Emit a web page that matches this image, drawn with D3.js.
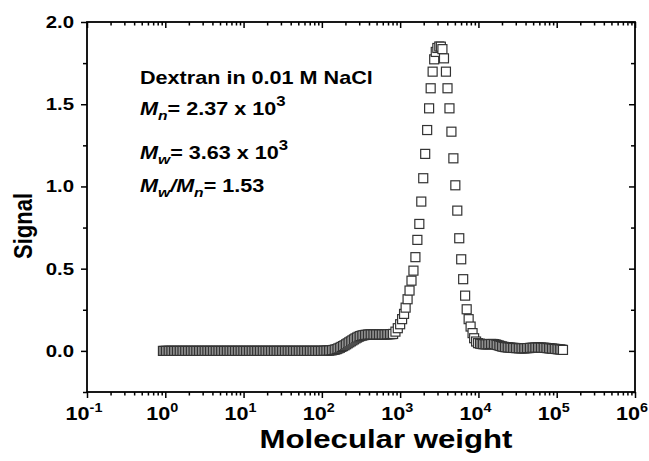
<!DOCTYPE html>
<html>
<head>
<meta charset="utf-8">
<script src="https://cdn.jsdelivr.net/npm/d3@7"></script>
<style>
  body { margin: 0; background: #fff; }
  text { font-family: "Liberation Sans", Arial, sans-serif; font-weight: bold; }
</style>
</head>
<body>
<div id="chart"></div>
<script>
// [log10(M), signal], in elution order (low M first)
var baseline = [
  [-0.03,0],[-0.01,0],[0.01,0],[0.03,0],[0.05,0],[0.07,0],[0.09,0],[0.11,0],[0.13,0],[0.15,0],
  [0.17,0],[0.19,0],[0.21,0],[0.23,0],[0.25,0],[0.27,0],[0.29,0],[0.31,0],[0.33,0],[0.35,0],
  [0.37,0],[0.39,0],[0.41,0],[0.43,0],[0.45,0],[0.47,0],[0.49,0],[0.51,0],[0.53,0],[0.55,0],
  [0.57,0],[0.59,0],[0.61,0],[0.63,0],[0.65,0],[0.67,0],[0.69,0],[0.71,0],[0.73,0],[0.75,0],
  [0.77,0],[0.79,0],[0.81,0],[0.83,0],[0.85,0],[0.87,0],[0.89,0],[0.91,0],[0.93,0],[0.95,0],
  [0.97,0],[0.99,0],[1.01,0],[1.03,0],[1.05,0],[1.07,0],[1.09,0],[1.11,0],[1.13,0],[1.15,0],
  [1.17,0],[1.19,0],[1.21,0],[1.23,0],[1.25,0],[1.27,0],[1.29,0],[1.31,0],[1.33,0],[1.35,0],
  [1.37,0],[1.39,0],[1.41,0],[1.43,0],[1.45,0],[1.47,0],[1.49,0],[1.51,0],[1.53,0],[1.55,0],
  [1.57,0],[1.59,0],[1.61,0],[1.63,0],[1.65,0],[1.67,0],[1.69,0],[1.71,0],[1.73,0],[1.75,0],
  [1.77,0],[1.79,0],[1.81,0],[1.83,0],[1.85,0],[1.87,0],[1.89,0],[1.91,0],[1.93,0],[1.95,0],
  [1.97,0],[1.99,0],[2.01,0],[2.03,0.001],[2.05,0.001],[2.07,0.002],[2.09,0.002]
];

var shoulder = [
  [2.11,0.003],[2.13,0.004],[2.15,0.006],[2.17,0.008],[2.19,0.011],[2.21,0.015],[2.23,0.019],
  [2.25,0.024],[2.27,0.029],[2.29,0.034],[2.31,0.040],[2.33,0.046],[2.35,0.052],[2.37,0.058],
  [2.39,0.064],[2.41,0.070],[2.43,0.076],[2.45,0.081],[2.47,0.086],[2.49,0.090],[2.51,0.093],
  [2.53,0.095],[2.55,0.097],[2.57,0.098],[2.59,0.099],[2.61,0.100],[2.63,0.100],[2.65,0.100],
  [2.67,0.100],[2.69,0.100],[2.71,0.100],[2.73,0.100],[2.75,0.100],[2.77,0.100],[2.79,0.100],
  [2.81,0.100],[2.83,0.101],[2.85,0.101],[2.87,0.102],[2.89,0.102]
];

var peak = [
  [2.91,0.103],[2.94,0.117],[2.97,0.138],[3.00,0.162],[3.025,0.193],[3.05,0.225],[3.07,0.263],
  [3.095,0.314],[3.12,0.367],[3.145,0.427],[3.17,0.488],[3.195,0.570],[3.22,0.675],[3.245,0.772],
  [3.27,0.908],[3.295,1.050],[3.32,1.198],[3.345,1.343],[3.37,1.475],[3.39,1.597],[3.415,1.698],
  [3.435,1.773],[3.455,1.818],[3.475,1.842],[3.50,1.851],[3.52,1.850],[3.54,1.835],[3.56,1.779],
  [3.585,1.698],[3.605,1.597],[3.63,1.475],[3.655,1.333],[3.68,1.171],[3.705,1.007],[3.73,0.853],
  [3.755,0.685],[3.78,0.557],[3.805,0.436],[3.83,0.336],[3.85,0.253],[3.875,0.193],[3.90,0.148],
  [3.925,0.108],[3.945,0.077],[3.97,0.057],[3.995,0.047]
];

var tail = [
  [4.02,0.044],[4.04,0.042],[4.06,0.041],[4.08,0.040],[4.10,0.040],[4.12,0.040],[4.14,0.041],
  [4.16,0.042],[4.18,0.042],[4.20,0.041],[4.22,0.039],[4.24,0.036],[4.26,0.033],[4.28,0.030],
  [4.30,0.027],[4.32,0.025],[4.34,0.023],[4.36,0.022],[4.38,0.021],[4.40,0.020],[4.42,0.019],
  [4.44,0.018],[4.46,0.018],[4.48,0.017],[4.50,0.017],[4.52,0.016],[4.54,0.016],[4.56,0.016],
  [4.58,0.016],[4.60,0.016],[4.62,0.017],[4.64,0.017],[4.66,0.018],[4.68,0.019],[4.70,0.019],
  [4.72,0.020],[4.74,0.020],[4.76,0.020],[4.78,0.020],[4.80,0.020],[4.82,0.019],[4.84,0.019],
  [4.86,0.018],[4.88,0.017],[4.90,0.016],[4.92,0.015],[4.94,0.014],[4.96,0.013],[4.98,0.012],
  [5.00,0.011],[5.02,0.010],[5.04,0.009],[5.06,0.008],[5.08,0.006]
];

var xDecades = [-1, 0, 1, 2, 3, 4, 5, 6];
var yMajor = [0, 0.5, 1.0, 1.5, 2.0];
var yMinor = [-0.25, 0.25, 0.75, 1.25, 1.75];

var points = baseline.concat(shoulder, peak, tail);

var width = 649, height = 461;
var mLeft = 87, mRight = 635, mTop = 22, mBottom = 392;
var sx = 1.2; // picture is stretched sideways

var svg = d3.select("#chart").append("svg")
    .attr("width", width)
    .attr("height", height);

var x = d3.scaleLog().domain([0.1, 1e6]).range([mLeft, mRight]);
var y = d3.scaleLinear().domain([-0.25, 2.0]).range([mBottom, mTop]);

var xMinor = [];
xDecades.slice(0, -1).forEach(function(e) {
    for (var k = 2; k <= 9; k++) xMinor.push(k * Math.pow(10, e));
});
var xMajor = xDecades.map(function(e) { return Math.pow(10, e); });

function tickAxis(axis, vals, size) {
    return axis.tickValues(vals).tickSize(size).tickSizeOuter(0).tickFormat("");
}

// bottom (outward) and top (inward)
svg.append("g").attr("transform", "translate(0," + mBottom + ")")
    .call(tickAxis(d3.axisBottom(x), xMajor, 6));
svg.append("g").attr("transform", "translate(0," + mBottom + ")")
    .call(tickAxis(d3.axisBottom(x), xMinor, 3.5));
svg.append("g").attr("transform", "translate(0," + mTop + ")")
    .call(tickAxis(d3.axisBottom(x), xMajor, 6));
svg.append("g").attr("transform", "translate(0," + mTop + ")")
    .call(tickAxis(d3.axisBottom(x), xMinor, 3.5));
// left (outward) and right (inward)
svg.append("g").attr("transform", "translate(" + mLeft + ",0)")
    .call(tickAxis(d3.axisLeft(y), yMajor, 6));
svg.append("g").attr("transform", "translate(" + mLeft + ",0)")
    .call(tickAxis(d3.axisLeft(y), yMinor, 4));
svg.append("g").attr("transform", "translate(" + mRight + ",0)")
    .call(tickAxis(d3.axisLeft(y), yMajor, 6));
svg.append("g").attr("transform", "translate(" + mRight + ",0)")
    .call(tickAxis(d3.axisLeft(y), yMinor, 4));

svg.selectAll(".domain").remove();
svg.selectAll(".tick line").attr("stroke", "#000").attr("stroke-width", 1.5);

svg.append("rect")
    .attr("x", mLeft).attr("y", mTop)
    .attr("width", mRight - mLeft).attr("height", mBottom - mTop)
    .attr("fill", "none").attr("stroke", "#000").attr("stroke-width", 1.8);

// y tick labels
svg.selectAll(".ylab")
    .data(yMajor)
    .enter()
    .append("text")
    .attr("class", "ylab")
    .attr("transform", function(d) { return "translate(" + (mLeft - 13) + "," + (y(d) + 6) + ") scale(" + sx + ",1)"; })
    .attr("text-anchor", "end")
    .style("font-size", "17px")
    .text(function(d) { return d.toFixed(1); });

// x tick labels 10^n
var xl = svg.selectAll(".xlab")
    .data(xDecades)
    .enter()
    .append("text")
    .attr("class", "xlab")
    .attr("transform", function(d) { return "translate(" + (x(Math.pow(10, d)) - 3) + ",420) scale(" + sx + ",1)"; })
    .attr("text-anchor", "middle")
    .style("font-size", "18px");
xl.append("tspan").text("10");
xl.append("tspan").attr("dy", -8).style("font-size", "12px").text(function(d) { return d; });

// axis titles
svg.append("text")
    .attr("transform", "translate(386,448) scale(" + sx + ",1)")
    .attr("text-anchor", "middle")
    .style("font-size", "26px")
    .text("Molecular weight");
svg.append("text")
    .attr("transform", "translate(32,226) rotate(-90) scale(1," + sx + ")")
    .attr("text-anchor", "middle")
    .style("font-size", "22px")
    .text("Signal");

// annotation
var fs = 18;
var ann = svg.append("g").attr("transform", "translate(140,0) scale(" + sx + ",1)");
ann.append("text").attr("y", 84).style("font-size", fs + "px").text("Dextran in 0.01 M NaCl");

function molLine(yy, sub, rest, sup) {
    var t = ann.append("text").attr("y", yy).style("font-size", fs + "px");
    t.append("tspan").style("font-style", "italic").text("M");
    t.append("tspan").style("font-style", "italic").style("font-size", "13px").attr("dy", 5).text(sub);
    t.append("tspan").attr("dy", -5).text(rest);
    if (sup) t.append("tspan").attr("dy", -9).style("font-size", "14px").text(sup);
    return t;
}
molLine(115, "n", "= 2.37 x 10", "3");
molLine(159, "w", "= 3.63 x 10", "3");
var r = ann.append("text").attr("y", 192).style("font-size", fs + "px");
r.append("tspan").style("font-style", "italic").text("M");
r.append("tspan").style("font-style", "italic").style("font-size", "13px").attr("dy", 5).text("w");
r.append("tspan").style("font-style", "italic").attr("dy", -5).text("/M");
r.append("tspan").style("font-style", "italic").style("font-size", "13px").attr("dy", 5).text("n");
r.append("tspan").attr("dy", -5).text("= 1.53");

// open squares
var s = 9;
svg.selectAll(".pt")
    .data(points)
    .enter()
    .append("rect")
    .attr("class", "pt")
    .attr("x", function(d) { return x(Math.pow(10, d[0])) - s / 2; })
    .attr("y", function(d) { return y(d[1]) - s / 2; })
    .attr("width", s)
    .attr("height", s)
    .attr("fill", "#fff")
    .attr("stroke", "#333")
    .attr("stroke-width", 1.2);
</script>
</body>
</html>
